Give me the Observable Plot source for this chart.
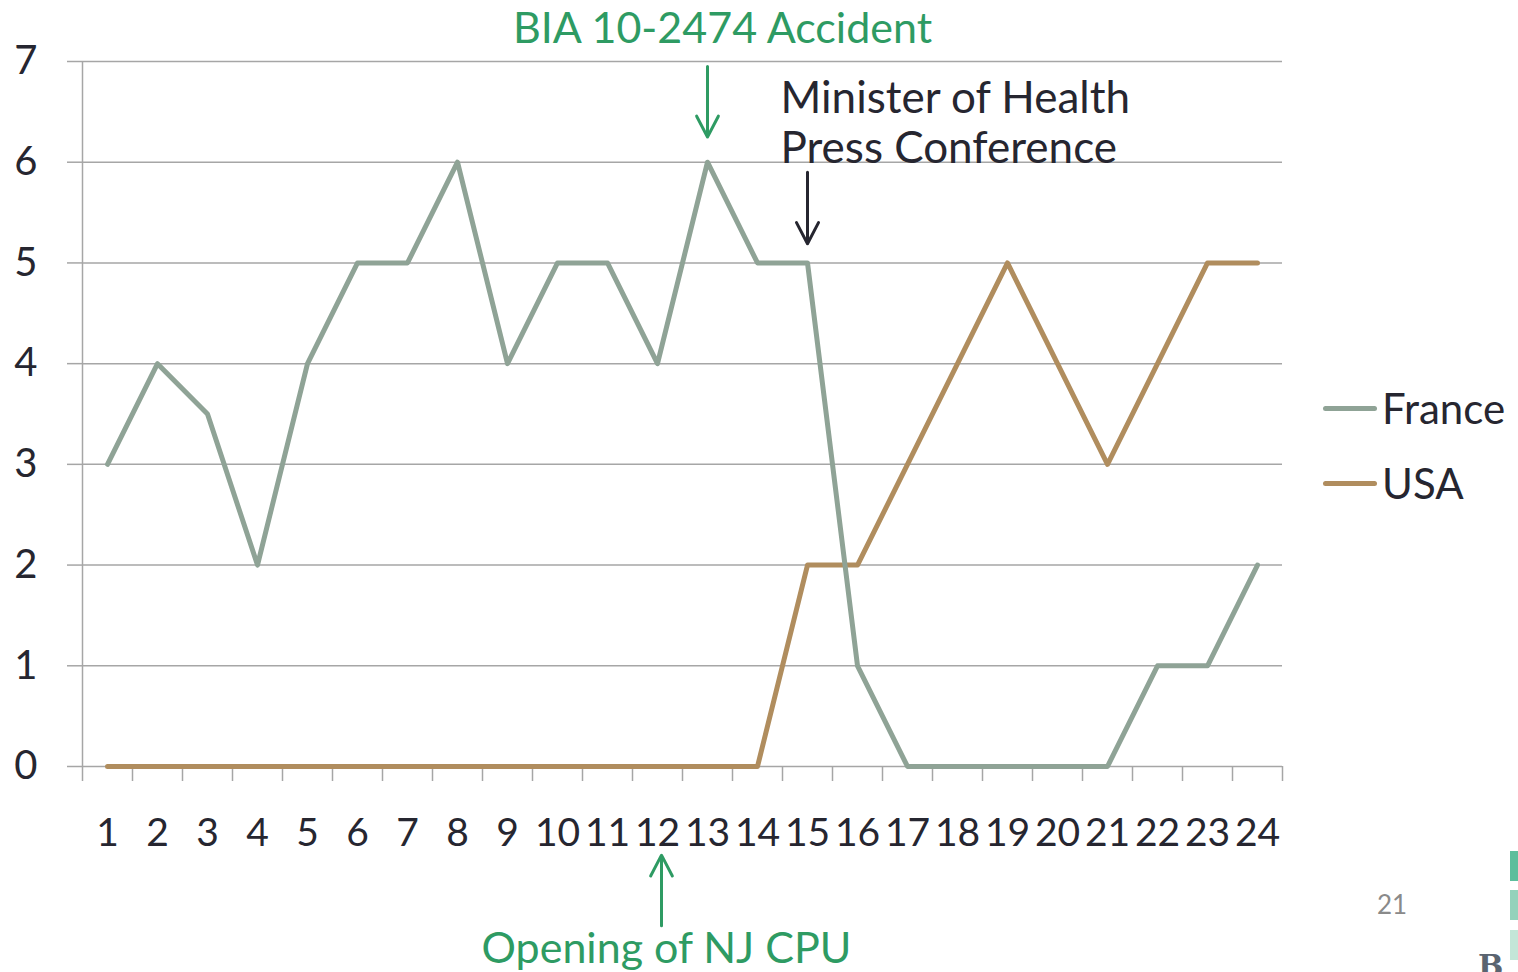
<!DOCTYPE html>
<html>
<head>
<meta charset="utf-8">
<script src="https://cdn.jsdelivr.net/npm/d3@7"></script>
<script src="https://cdn.jsdelivr.net/npm/@observablehq/plot@0.6"></script>
<style>
  html, body { margin: 0; padding: 0; background: #fff; }
  #wrap { position: relative; width: 1518px; height: 972px; overflow: hidden; font-family: Lato, "Open Sans", sans-serif; }
  .leg { position: absolute; left: 1323px; display: flex; align-items: center; font-size: 42px; color: #262630; }
  .leg .sw { width: 54px; height: 5px; border-radius: 3px; margin-right: 5px; }
  #page { position: absolute; left: 1377px; top: 888px; font-size: 26px; color: #8a8a8a; }
  .deco { position: absolute; left: 1510px; width: 12px; }
  #bmark { position: absolute; left: 1478px; top: 948px; font-family: "DejaVu Serif", serif; font-weight: bold; font-size: 30px; color: #5a6470; }
</style>
</head>
<body>
<div id="wrap">
  <div id="chart"></div>
  <div class="leg" style="top:383px"><div class="sw" style="background:#8fa396"></div>France</div>
  <div class="leg" style="top:458px"><div class="sw" style="background:#b08d5e"></div>USA</div>
  <div id="page">21</div>
  <div class="deco" style="top:851px;height:30px;background:#5dbe9c"></div>
  <div class="deco" style="top:890px;height:30px;background:#94d2bb"></div>
  <div class="deco" style="top:930px;height:30px;background:#c3e6d8"></div>
  <div id="bmark">B</div>
</div>
<script>
const periods = [1,2,3,4,5,6,7,8,9,10,11,12,13,14,15,16,17,18,19,20,21,22,23,24];
const france  = [3,4,3.5,2,4,5,5,6,4,5,5,4,6,5,5,1,0,0,0,0,0,1,1,2];
const usa     = [0,0,0,0,0,0,0,0,0,0,0,0,0,0,2,2,3,4,5,4,3,4,5,5];
const yTicks  = [0,1,2,3,4,5,6,7];
const bandEdges = [0.5,1.5,2.5,3.5,4.5,5.5,6.5,7.5,8.5,9.5,10.5,11.5,12.5,13.5,14.5,15.5,16.5,17.5,18.5,19.5,20.5,21.5,22.5,23.5,24.5];

const annoLabels = ["BIA 10-2474 Accident", "Minister of Health\nPress Conference", "Opening of NJ CPU"];
const annoX      = [13.3, 14.46, 12.18];
const annoY      = [7.32, 6.40, -1.81];
const annoAnchor = ["middle", "start", "middle"];
const annoColor  = ["#2e9b63", "#262630", "#2e9b63"];
const annoSize   = [43, 44, 43];

const arrowX  = [13, 15, 12.08];
const arrowY1 = [6.95, 5.90, -1.58];
const arrowY2 = [6.25, 5.19, -0.88];
const arrowColor = ["#2e9b63", "#262630", "#2e9b63"];

const franceData = periods.map((p, i) => ({period: p, value: france[i]}));
const usaData = periods.map((p, i) => ({period: p, value: usa[i]}));
const annos = annoLabels.map((t, i) => ({text: t, x: annoX[i], y: annoY[i], anchor: annoAnchor[i], color: annoColor[i], size: annoSize[i]}));
const arrows = arrowX.map((x, i) => ({x, y1: arrowY1[i], y2: arrowY2[i], color: arrowColor[i]}));

const grid = "#a6a6a6";

const chart = Plot.plot({
  width: 1518,
  height: 972,
  marginLeft: 82,
  marginRight: 236,
  marginTop: 61,
  marginBottom: 206,
  x: {domain: [0.5, 24.5]},
  y: {domain: [0, 7]},
  style: {fontFamily: "Lato, 'Open Sans', sans-serif", color: "#262630", background: "white", overflow: "visible"},
  marks: [
    Plot.gridY(yTicks, {stroke: grid, strokeOpacity: 1, strokeWidth: 1.5}),
    Plot.axisY(yTicks, {tickSize: 15, stroke: grid, strokeWidth: 1.5, tickFormat: () => "", label: null}),
    Plot.axisY(yTicks, {tickSize: 0, tickPadding: 45, fontSize: 40, tickFormat: d => String(d), label: null}),
    Plot.ruleX([0.5], {y1: 0, y2: 7, stroke: grid, strokeWidth: 1.5}),
    Plot.axisX(bandEdges, {tickSize: 15, stroke: grid, strokeWidth: 1.5, tickFormat: () => "", label: null}),
    Plot.axisX(periods, {tickSize: 0, tickPadding: 52, fontSize: 39, tickFormat: d => String(d), label: null}),
    Plot.line(usaData, {x: "period", y: "value", stroke: "#b08d5e", strokeWidth: 5, strokeLinejoin: "round", strokeLinecap: "round"}),
    Plot.line(franceData, {x: "period", y: "value", stroke: "#8fa396", strokeWidth: 5, strokeLinejoin: "round", strokeLinecap: "round"}),
    Plot.arrow(arrows, {x: "x", y1: "y1", y2: "y2", stroke: d => d.color, strokeWidth: 3, headLength: 18, headAngle: 55}),
    Plot.text(annos.filter(d => d.anchor === "middle"), {x: "x", y: "y", text: "text", fill: d => d.color, fontSize: d => d.size, textAnchor: "middle", lineAnchor: "middle"}),
    Plot.text(annos.filter(d => d.anchor === "start"), {x: "x", y: "y", text: "text", fill: d => d.color, fontSize: d => d.size, textAnchor: "start", lineAnchor: "middle", lineHeight: 1.13})
  ]
});
document.getElementById("chart").appendChild(chart);
</script>
</body>
</html>
